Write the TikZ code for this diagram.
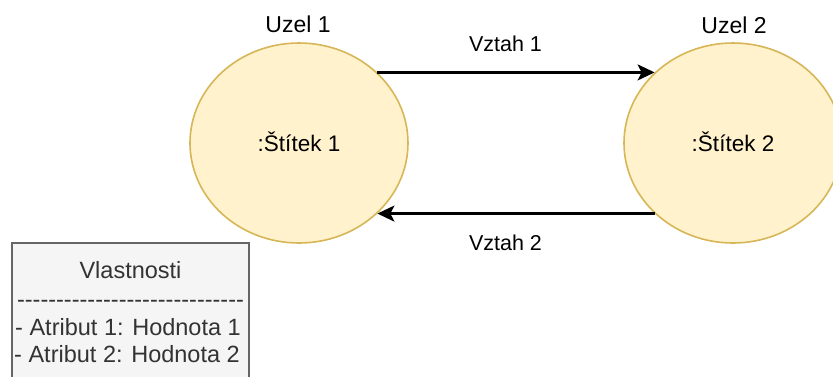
\documentclass[tikz,border=0pt]{standalone}
\usepackage{fontspec}
\setmainfont{Liberation Sans}
\usetikzlibrary{arrows.meta,shapes.geometric}
\definecolor{nodefill}{HTML}{FFF2CC}
\definecolor{nodeline}{HTML}{D6B656}
\definecolor{boxfill}{HTML}{F5F5F5}
\definecolor{boxline}{HTML}{666666}
\definecolor{boxtext}{HTML}{333333}
\newcommand\hk{-\kern0pt}
\tikzset{
  uzel/.style={ellipse, draw=nodeline, fill=nodefill, line width=1.6pt,
    minimum width=218pt, minimum height=200pt, inner sep=0pt,
    text height=17pt, text depth=0pt, font=\fontsize{22.5}{26}\selectfont},
  nadpis/.style={anchor=base, inner sep=0pt, font=\fontsize{23}{27}\selectfont},
  vztah/.style={-{Stealth[length=17pt,width=16pt,inset=4pt]}, line width=2.2pt},
  vztahlabel/.style={anchor=base, inner sep=0pt, font=\fontsize{21.5}{25}\selectfont},
  propbox/.style={rectangle, draw=boxline, fill=boxfill, line width=1.4pt,
    minimum width=237pt, minimum height=140pt, inner sep=0pt},
  proptext/.style={anchor=base, inner sep=0pt, text=boxtext, font=\fontsize{23.5}{27}\selectfont}
}
\begin{document}
\begin{tikzpicture}[x=1pt,y=-1pt]
\useasboundingbox (0,0) rectangle (833,376);
\node[uzel] (e1) at (299,143) {:Štítek 1};
\node[uzel] (e2) at (733,143) {:Štítek 2};
\node[nadpis] (u1) at (298,32) {Uzel 1};
\node[nadpis] (u2) at (734,33) {Uzel 2};
\draw[vztah] (e1.42) -- node[vztahlabel, pos=0.462, yshift=21pt] (v1) {Vztah 1} (e2.138);
\draw[vztah] (e2.222) -- node[vztahlabel, pos=0.538, yshift=-37pt] (v2) {Vztah 2} (e1.318);
\node[propbox] (props) at (130.5,313) {};
\node[proptext] (p0) at (130.5,278.5) {Vlastnosti};
\node[proptext] (p1) at (130.5,307) {\hk\hk\hk\hk\hk\hk\hk\hk\hk\hk\hk\hk\hk\hk\hk\hk\hk\hk\hk\hk\hk\hk\hk\hk\hk\hk\hk\hk\hk};
\node[proptext] (p2) at (128,335.5) {- Atribut 1: Hodnota 1};
\node[proptext] (p3) at (127,362.5) {- Atribut 2: Hodnota 2};
\end{tikzpicture}
\end{document}
